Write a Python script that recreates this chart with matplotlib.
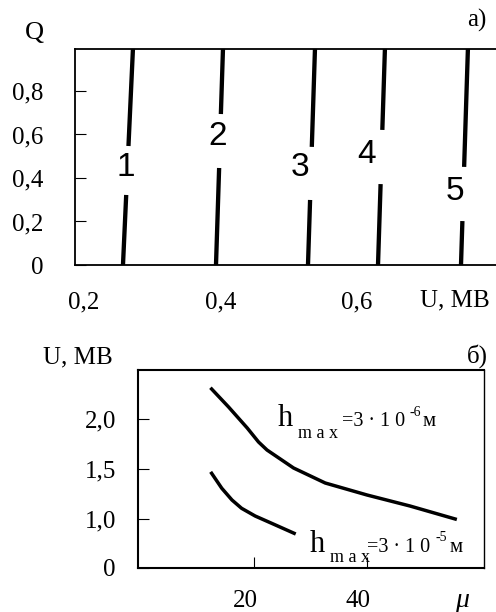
import matplotlib
matplotlib.use("Agg")
import matplotlib.pyplot as plt
import matplotlib.transforms as mtransforms
import numpy as np

# ---------------- data: panel a) ----------------
curve_ids = ["1", "2", "3", "4", "5"]
u_at_q0 = [0.2571, 0.3934, 0.5282, 0.6308, 0.7524]   # U (MV) at Q = 0
u_at_q1 = [0.2718, 0.4037, 0.5385, 0.6410, 0.7626]   # U (MV) at Q = 1
gap_lo = [0.322, 0.446, 0.299, 0.372, 0.202]          # Q where line breaks for label
gap_hi = [0.547, 0.694, 0.543, 0.621, 0.451]
label_u = [0.2615, 0.3963, 0.5165, 0.6147, 0.7436]
label_q = [0.446, 0.589, 0.446, 0.506, 0.336]
xticks_a = [0.2, 0.4, 0.6]
xticklabels_a = ["0,2", "0,4", "0,6"]
yticks_a = [0.0, 0.2, 0.4, 0.6, 0.8]
yticklabels_a = ["0", "0,2", "0,4", "0,6", "0,8"]

# ---------------- data: panel б) ----------------
mu_upper = [12.5, 15.5, 18.8, 20.8, 22.3, 27.0, 32.6, 40.0, 47.6, 55.6]
u_upper = [2.30, 2.12, 1.91, 1.77, 1.69, 1.51, 1.36, 1.24, 1.13, 1.00]
mu_lower = [12.5, 14.3, 16.1, 17.8, 20.2, 23.4, 27.1]
u_lower = [1.457, 1.307, 1.19, 1.107, 1.03, 0.95, 0.857]
xticks_b = [20, 40]
xticklabels_b = ["20", "40"]
y_break = 0.51
yticks_b = [y_break, 1.0, 1.5, 2.0]
yticklabels_b = ["0", "1,0", "1,5", "2,0"]

W, H = 496, 612
fig = plt.figure(figsize=(W / 100, H / 100), dpi=100)
serif = "Liberation Serif"
sans = "Liberation Sans"

def fpos(px, py):
    return px / W, 1 - py / H

# ---------------- panel a) ----------------
axa = fig.add_axes([75 / W, 1 - 265 / H, 421 / W, 216 / H])
axa.set_xlim(0.1868, 0.8037)
axa.set_ylim(0, 0.993)
for u0, u1, lo, hi in zip(u_at_q0, u_at_q1, gap_lo, gap_hi):
    q = np.array([0.0, lo])
    axa.plot(u0 + (u1 - u0) * q, q, color="black", lw=3.1, solid_capstyle="butt")
    q = np.array([hi, 1.0])
    axa.plot(u0 + (u1 - u0) * q, q, color="black", lw=3.1, solid_capstyle="butt")
for lab, xu, yq in zip(curve_ids, label_u, label_q):
    axa.text(xu, yq, lab, fontsize=24, family=sans, ha="center", va="center")
axa.spines["right"].set_visible(False)
for s in ["left", "top", "bottom"]:
    axa.spines[s].set_linewidth(1.3)
axa.set_xticks(xticks_a)
axa.set_xticklabels(xticklabels_a, family=serif, fontsize=18)
axa.tick_params(axis="x", which="major", length=0, pad=19)
axa.set_xticks([0.6], minor=True)
axa.tick_params(axis="x", which="minor", direction="in", length=8, width=0.8)
axa.set_yticks(yticks_a)
axa.set_yticklabels(yticklabels_a, family=serif, fontsize=18)
axa.tick_params(axis="y", direction="in", length=8, width=0.8, pad=23)
fig.text(*fpos(34, 39), "Q", family=serif, fontsize=19, ha="center", va="baseline")
fig.text(*fpos(477, 27), "a)", family=serif, fontsize=18, ha="center", va="baseline")
fig.text(*fpos(420, 306), "U, МВ", family=serif, fontsize=18, ha="left", va="baseline")

# ---------------- panel б) ----------------
axb = fig.add_axes([138 / W, 1 - 568 / H, 346 / W, 198 / H])
axb.set_xlim(-0.53, 60.7)
axb.set_ylim(y_break, 2.49)
axb.plot(mu_upper, u_upper, color="black", lw=2.5)
axb.plot(mu_lower, u_lower, color="black", lw=2.5)
for s in ["left", "bottom", "top"]:
    axb.spines[s].set_linewidth(1.5)
axb.spines["right"].set_linewidth(1.0)
axb.set_xticks(xticks_b)
axb.set_xticklabels(xticklabels_b, family=serif, fontsize=18)
axb.tick_params(axis="x", direction="in", length=8, width=0.8, pad=16)
off = mtransforms.ScaledTranslation(-0.09, 0, fig.dpi_scale_trans)
for lbl in axb.get_xticklabels():
    lbl.set_transform(lbl.get_transform() + off)
axb.set_yticks(yticks_b)
axb.set_yticklabels(yticklabels_b, family=serif, fontsize=18)
axb.tick_params(axis="y", direction="in", length=8, width=0.8, pad=16)
fig.text(*fpos(43, 363), "U, МВ", family=serif, fontsize=18, ha="left", va="baseline")
fig.text(*fpos(477, 363), "б)", family=serif, fontsize=18, ha="center", va="baseline")
fig.text(*fpos(462, 607), "μ", family=serif, style="italic", fontsize=20, ha="center", va="baseline")

def hlabel(hx, base, sub_base, eq_x, sup_x, sup_base, m_x, exp):
    fig.text(*fpos(hx, base), "h", family=serif, fontsize=22, ha="left", va="baseline")
    fig.text(*fpos(hx + 20, sub_base), "m a x", family=serif, fontsize=13, ha="left", va="baseline")
    fig.text(*fpos(eq_x, base), "=3 · 1 0", family=serif, fontsize=14.5, ha="left", va="baseline")
    fig.text(*fpos(sup_x, sup_base), exp, family=serif, fontsize=10, ha="left", va="baseline")
    fig.text(*fpos(m_x, base), "м", family=serif, fontsize=15, ha="left", va="baseline")

hlabel(278, 426, 438, 342, 409, 416, 423, "-6")
hlabel(310, 552, 562, 367, 435, 541, 450, "-5")

fig.savefig("out.png", dpi=100)
